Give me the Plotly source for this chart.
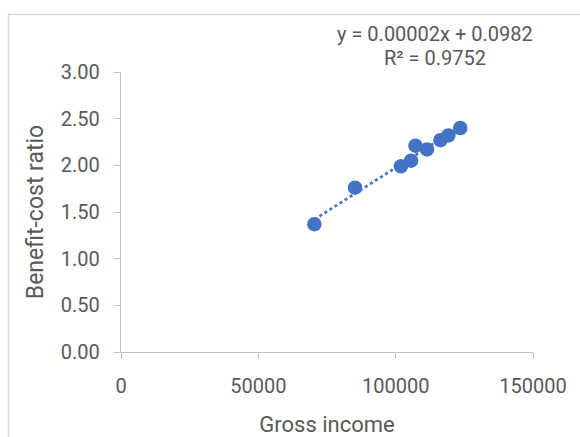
import numpy as np
import plotly.graph_objects as go

# Data
gross_income = [70400, 85200, 101900, 105600, 107200, 111400, 116300, 119200, 123500]
benefit_cost_ratio = [1.37, 1.76, 1.99, 2.05, 2.21, 2.17, 2.27, 2.32, 2.40]
eq_line1 = "y = 0.00002x + 0.0982"
eq_line2 = "R² = 0.9752"
x_tickvals = [0, 50000, 100000, 150000]
y_tickvals = [0, 0.5, 1.0, 1.5, 2.0, 2.5, 3.0]

W, H = 580, 437
L, R, T, B = 121, 47, 72, 85
pw, ph = W - L - R, H - T - B

def px_x(p):
    return (p - L) / pw

def px_y(p):
    return (H - B - p) / ph

blue = "#4472C4"
grey_txt = "#595959"
axis_col = "#BFBFBF"

# linear trendline from the data
slope, intercept = np.polyfit(gross_income, benefit_cost_ratio, 1)
tx = [min(gross_income), max(gross_income)]
ty = [slope * v + intercept for v in tx]

fig = go.Figure()
fig.add_trace(go.Scatter(x=tx, y=ty, mode="lines",
                         line=dict(color=blue, width=2.75, dash="dot"),
                         hoverinfo="skip", showlegend=False))
fig.add_trace(go.Scatter(x=gross_income, y=benefit_cost_ratio, mode="markers",
                         marker=dict(color=blue, size=14.5, line=dict(width=0)),
                         showlegend=False))

font_family = "Roboto"
fig.update_layout(
    width=W, height=H,
    margin=dict(l=L, r=R, t=T, b=B, pad=0, autoexpand=False),
    paper_bgcolor="white", plot_bgcolor="white",
    font=dict(family=font_family, color=grey_txt, size=20),
    xaxis=dict(range=[0, 150000], tickvals=x_tickvals,
               ticktext=[str(v) for v in x_tickvals],
               automargin=False,
               showgrid=False, zeroline=False,
               showline=True, linecolor=axis_col, linewidth=1.3,
               ticks="outside", ticklen=6, tickcolor=axis_col, tickwidth=1.3,
               ticklabelstandoff=10,
               tickfont=dict(size=20, color=grey_txt, family=font_family),
               title=dict(text="Gross income", font=dict(size=22, color=grey_txt, family=font_family),
                          standoff=20)),
    yaxis=dict(range=[0, 3], tickvals=y_tickvals,
               ticktext=[f"{v:.2f}" for v in y_tickvals],
               automargin=False,
               showgrid=False, zeroline=False,
               showline=True, linecolor=axis_col, linewidth=1.3,
               ticks="outside", ticklen=6, tickcolor=axis_col, tickwidth=1.3,
               ticklabelstandoff=10,
               tickfont=dict(size=20, color=grey_txt, family=font_family),
               title=dict(text="Benefit-cost ratio", font=dict(size=23, color=grey_txt, family=font_family),
                          standoff=10)),
    shapes=[dict(type="rect", xref="paper", yref="paper",
                 x0=px_x(8.5), x1=px_x(595), y0=px_y(460), y1=px_y(14.5),
                 line=dict(color="#D9D9D9", width=1.5), fillcolor="rgba(0,0,0,0)",
                 layer="below")],
    annotations=[
        dict(xref="paper", yref="paper", x=px_x(435), y=px_y(34), text=eq_line1,
             showarrow=False, xanchor="center", yanchor="middle",
             font=dict(size=20, color=grey_txt, family=font_family)),
        dict(xref="paper", yref="paper", x=px_x(435), y=px_y(58), text=eq_line2,
             showarrow=False, xanchor="center", yanchor="middle",
             font=dict(size=20, color=grey_txt, family=font_family)),
    ],
)

fig.write_html("out.html", config={"displayModeBar": False},
               post_script="document.body.style.margin='0';document.body.style.padding='0';")
